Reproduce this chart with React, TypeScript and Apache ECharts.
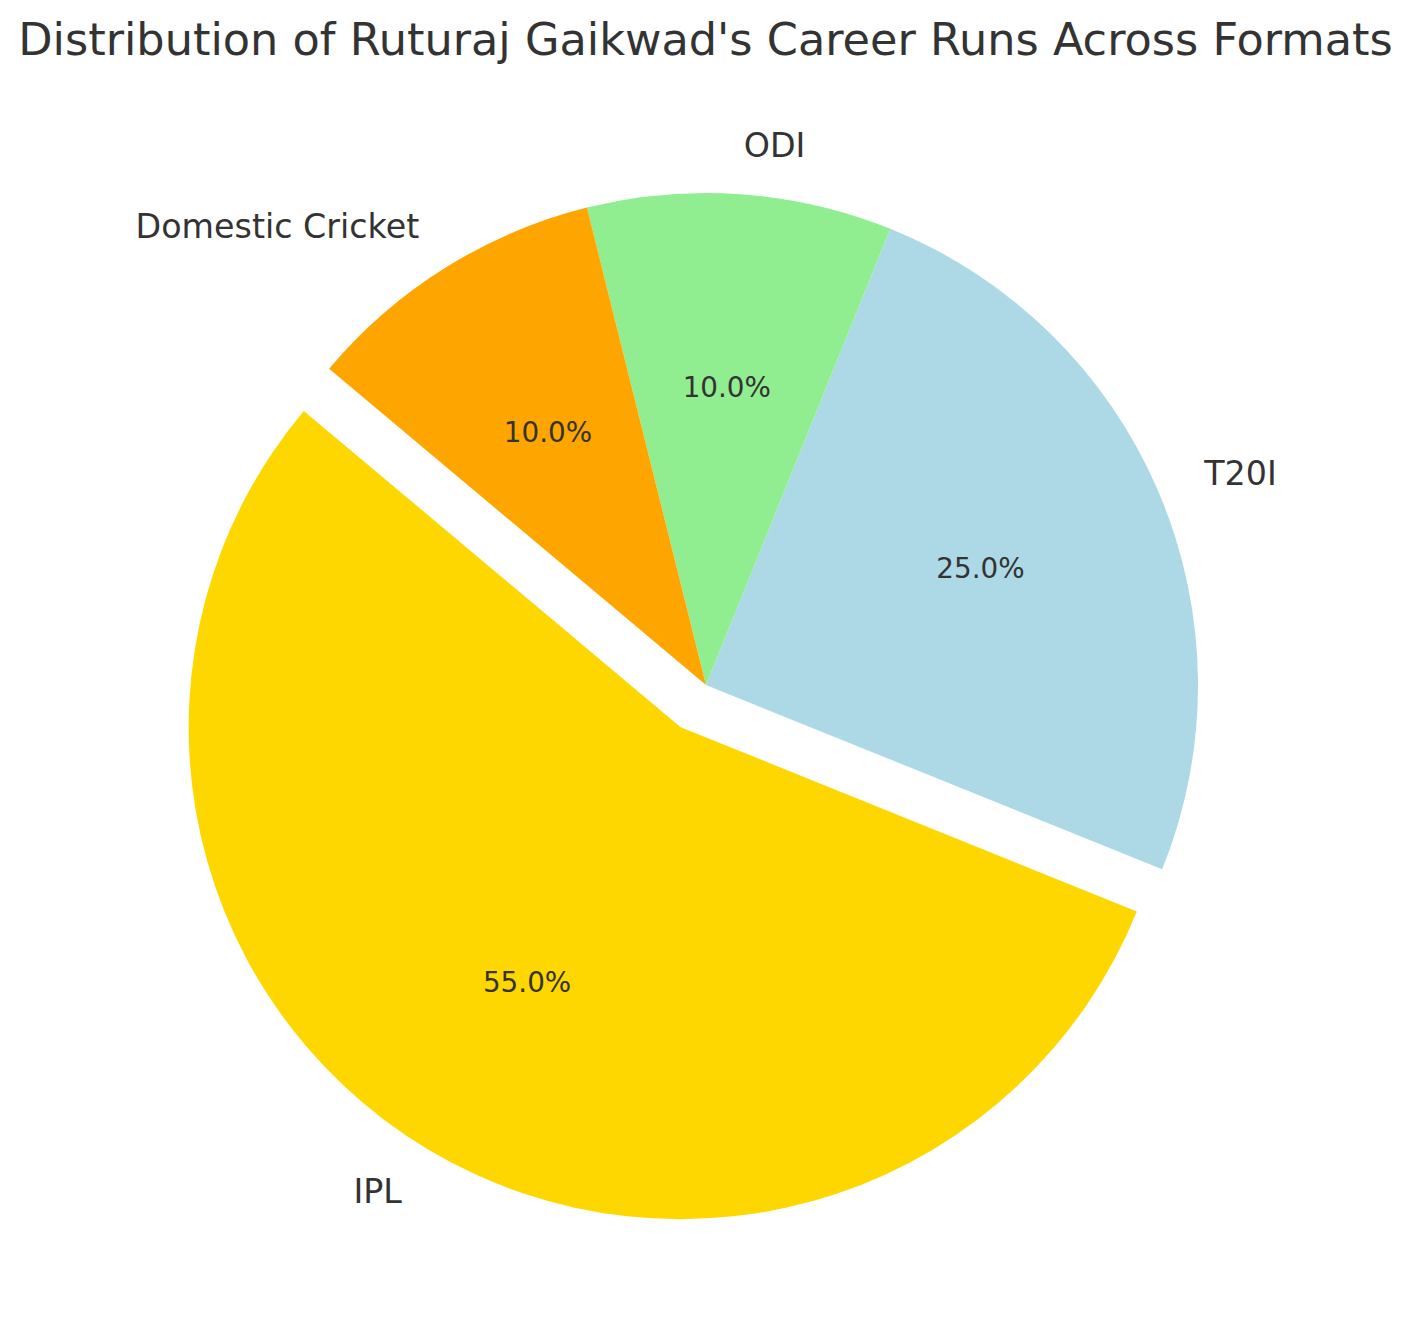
import React, { useEffect, useRef } from "react";
import * as echarts from "echarts";

const categories = ["IPL", "T20I", "ODI", "Domestic Cricket"];
const values = [55, 25, 10, 10];
const colors = ["#FFD700", "#ADD8E6", "#90EE90", "#FFA500"];
const exploded = [true, false, false, false];

const TITLE = "Distribution of Ruturaj Gaikwad's Career Runs Across Formats";

export default function App() {
  const ref = useRef<HTMLDivElement>(null);
  useEffect(() => {
    document.body.style.margin = "0";
    const chart = echarts.init(ref.current!, undefined, { renderer: "svg" });
    const R = 492;
    const center = [706, 685];
    const font = "'DejaVu Sans', sans-serif";
    const total = values.reduce((a, b) => a + b, 0);
    const mainData = categories.map((c, i) => ({
      name: c,
      value: values[i],
      selected: exploded[i],
      itemStyle: { color: colors[i] },
    }));
    const pctData = categories.map((c, i) => ({
      name: c,
      value: values[i],
      selected: exploded[i],
      itemStyle: { color: "rgba(0,0,0,0)" },
      label: { formatter: ((values[i] / total) * 100).toFixed(1) + "%" },
    }));
    chart.setOption({
      animation: false,
      backgroundColor: "#ffffff",
      title: {
        text: TITLE,
        left: "center",
        top: 12,
        textStyle: { fontFamily: font, fontSize: 44.6, fontWeight: "normal", color: "#333333" },
      },
      series: [
        {
          type: "pie",
          center,
          radius: [0, R],
          startAngle: 140,
          clockwise: false,
          selectedMode: "single",
          selectedOffset: R * 0.1,
          avoidLabelOverlap: false,
          emphasis: { disabled: true },
          silent: true,
          data: mainData,
          itemStyle: { borderWidth: 0 },
          label: {
            show: true,
            position: "outside",
            distanceToLabelLine: 0,
            fontFamily: font,
            fontSize: 33.3,
            color: "#333333",
          },
          labelLine: { show: false, length: R * 0.1, length2: 0 },
        },
        {
          type: "pie",
          center,
          radius: [R * 0.2, R],
          startAngle: 140,
          clockwise: false,
          selectedMode: "single",
          selectedOffset: R * 0.1,
          avoidLabelOverlap: false,
          emphasis: { disabled: true },
          silent: true,
          data: pctData,
          itemStyle: { borderWidth: 0 },
          label: {
            show: true,
            position: "inside",
            fontFamily: font,
            fontSize: 27.8,
            color: "#333333",
          },
          labelLine: { show: false },
        },
      ],
    });
    return () => chart.dispose();
  }, []);
  return <div ref={ref} style={{ width: 1411, height: 1322 }} />;
}
